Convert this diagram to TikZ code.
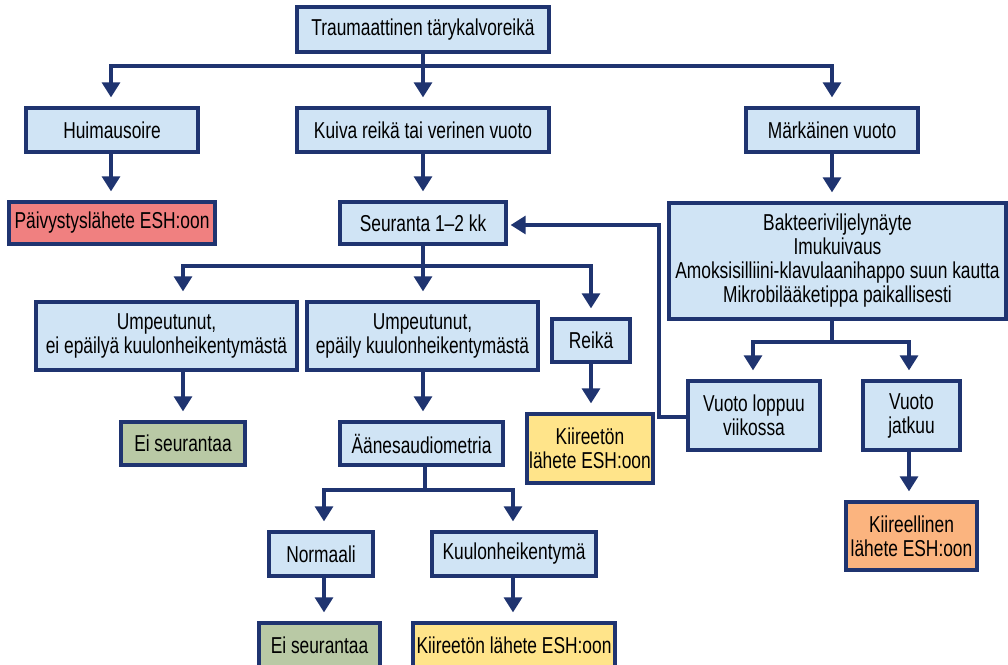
\documentclass[tikz,border=0pt]{standalone}
\usepackage{fontspec}
\setmainfont{Liberation Sans}[FakeStretch=0.755]
\usetikzlibrary{arrows.meta}
\definecolor{navy}{RGB}{31,52,112}
\definecolor{lblue}{RGB}{208,228,245}
\definecolor{cred}{RGB}{240,128,128}
\definecolor{cgreen}{RGB}{185,201,165}
\definecolor{cyellow}{RGB}{255,228,138}
\definecolor{corange}{RGB}{251,180,127}
\begin{document}
\begin{tikzpicture}[x=1pt,y=-1pt,
  box/.style={draw=navy, line width=3.3pt, fill=lblue, inner sep=0pt, align=center,
    font=\fontsize{23}{24}\selectfont},
  arr/.style={draw=navy, line width=3.1pt, -{Triangle[width=18pt,length=15pt]}, shorten >=9pt},
  ln/.style={draw=navy, line width=3.1pt},
]
\clip (0,0) rectangle (1008,664);
\fill[white] (0,0) rectangle (1008,664);

% nodes
\node[box, minimum width=252, minimum height=45] (top) at (423,29.5) {Traumaattinen tärykalvoreikä};
\node[box, minimum width=172, minimum height=44] (huim) at (112,130) {Huimausoire};
\node[box, minimum width=252, minimum height=44] (kuiva) at (423,130) {Kuiva reikä tai verinen vuoto};
\node[box, minimum width=172, minimum height=44] (mark) at (832,130) {Märkäinen vuoto};
\node[box, fill=cred, minimum width=206, minimum height=42] (paiv) at (112,223) {Päivystyslähete ESH:oon};
\node[box, minimum width=166, minimum height=42] (seur) at (423,223) {Seuranta 1–2 kk};
\node[box, minimum width=337, minimum height=116] (bakt) at (837.5,261) {Bakteeriviljelynäyte\\Imukuivaus\\Amoksisilliini-klavulaanihappo suun kautta\\Mikrobilääketippa paikallisesti};
\node[box, minimum width=261, minimum height=68] (umpA) at (166.5,336) {Umpeutunut,\\ei epäilyä kuulonheikentymästä};
\node[box, minimum width=231, minimum height=68] (umpB) at (422.5,336) {Umpeutunut,\\epäily kuulonheikentymästä};
\node[box, minimum width=78, minimum height=43] (reika) at (591,340.5) {Reikä};
\node[box, fill=cgreen, minimum width=124, minimum height=43] (eiA) at (183,443.5) {Ei seurantaa};
\node[box, minimum width=163, minimum height=43] (aanes) at (421.5,443.5) {Äänesaudiometria};
\node[box, fill=cyellow, minimum width=126, minimum height=69] (kiireA) at (590,448.5) {Kiireetön\\lähete ESH:oon};
\node[box, minimum width=132, minimum height=69] (vuotoL) at (754,415.5) {Vuoto loppuu\\viikossa};
\node[box, minimum width=97, minimum height=69] (vuotoJ) at (911.5,415.5) {Vuoto\\jatkuu};
\node[box, fill=corange, minimum width=131, minimum height=68] (kiireel) at (911.5,536) {Kiireellinen\\lähete ESH:oon};
\node[box, minimum width=104, minimum height=44] (norm) at (321,554) {Normaali};
\node[box, minimum width=164, minimum height=44] (kuulo) at (514,554) {Kuulonheikentymä};
\node[box, fill=cgreen, minimum width=121, minimum height=44] (eiB) at (319.5,645) {Ei seurantaa};
\node[box, fill=cyellow, minimum width=202, minimum height=44] (kiireB) at (514,645) {Kiireetön lähete ESH:oon};

% split coordinates
\coordinate (s1) at (423,66);
\coordinate (s2) at (423,266);
\coordinate (s3) at (425,490);
\coordinate (s4) at (832,342);
\coordinate (xA) at (183,0);
\coordinate (xR) at (591,0);
\coordinate (xN) at (324,0);
\coordinate (xK) at (513,0);
\coordinate (xL) at (753,0);
\coordinate (xJ) at (909,0);
\coordinate (xH) at (111,0);
\coordinate (fb) at (659,0);

% top split
\draw[ln] (top.south) -- (s1);
\draw[arr] (s1) -| (huim.north -| xH);
\draw[arr] (s1) -- (kuiva.north);
\draw[arr] (s1) -| (mark.north);
% straight down
\draw[arr] (huim.south -| xH) -- (paiv.north -| xH);
\draw[arr] (kuiva.south) -- (seur.north);
\draw[arr] (mark.south) -- (bakt.north -| mark.south);
% seuranta split
\draw[ln] (seur.south) -- (s2);
\draw[arr] (s2) -| (umpA.north -| xA);
\draw[arr] (s2) -- (umpB.north -| s2);
\draw[arr] (s2) -| (reika.north -| xR);
\draw[arr] (umpA.south -| xA) -- (eiA.north -| xA);
\draw[arr] (umpB.south -| s2) -- (aanes.north -| s2);
\draw[arr] (reika.south -| xR) -- (kiireA.north -| xR);
% audiometria split
\draw[ln] (aanes.south -| s3) -- (s3);
\draw[arr] (s3) -| (norm.north -| xN);
\draw[arr] (s3) -| (kuulo.north -| xK);
\draw[arr] (norm.south -| xN) -- (eiB.north -| xN);
\draw[arr] (kuulo.south -| xK) -- (kiireB.north -| xK);
% bakteeri split
\draw[ln] (bakt.south -| s4) -- (s4);
\draw[arr] (s4) -| (vuotoL.north -| xL);
\draw[arr] (s4) -| (vuotoJ.north -| xJ);
\draw[arr] (vuotoJ.south -| xJ) -- (kiireel.north -| xJ);
% feedback
\draw[draw=navy, line width=3.1pt, -{Triangle[width=18pt,length=15pt]}, shorten >=3pt]
  (vuotoL.west |- 0,417) -- (fb |- 0,417) -- (fb |- 0,225) -- (seur.east |- 0,225);
\end{tikzpicture}
\end{document}
